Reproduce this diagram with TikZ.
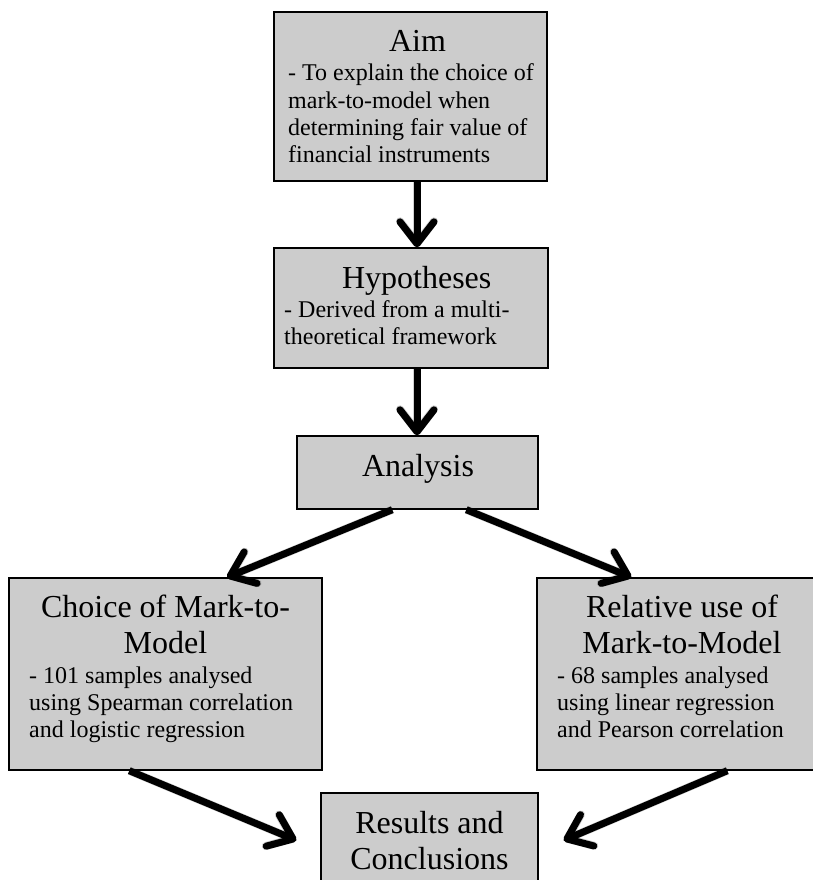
\documentclass[tikz,border=0pt]{standalone}
\usepackage{fontspec}
\setmainfont{Liberation Serif}
\usetikzlibrary{arrows.meta}
\definecolor{boxgray}{RGB}{204,204,204}
\newcommand{\ttlfont}{\fontsize{32}{36}\selectfont}
\newcommand{\bdyfont}{\fontsize{24}{27.3}\selectfont}
\tikzset{
  box/.style={draw=black, fill=boxgray, line width=1.4pt, rectangle, inner sep=0pt},
  ttl/.style={inner sep=0pt, anchor=base, font=\ttlfont},
  bdy/.style={inner sep=0pt, anchor=base west},
  flow/.style={line width=7pt, -{Straight Barb[length=22pt,width=34pt,round]}},
  flowshadow/.style={line width=8pt, draw=black, opacity=0.18, -{Straight Barb[length=22pt,width=34pt,round]}},
}
\begin{document}
\begin{tikzpicture}[x=1pt,y=-1pt]
\useasboundingbox (0,0) rectangle (813,880);
\clip (0,0) rectangle (813,880);
\fill[white] (0,0) rectangle (813,880);

% boxes
\node[box, minimum width=273pt, minimum height=169pt] (aim) at (410.5,96.5) {};
\node[box, minimum width=274pt, minimum height=120pt] (hyp) at (411,308) {};
\node[box, minimum width=241pt, minimum height=73pt] (ana) at (417.5,472.5) {};
\node[box, minimum width=313pt, minimum height=192pt] (cho) at (165.5,674) {};
\node[box, minimum width=291pt, minimum height=192pt] (rel) at (682.5,674) {};
\node[box, minimum width=217pt, minimum height=107pt] (res) at (429.5,846.5) {};

% texts
\node[ttl] (aimt) at (417.5,52) {Aim};
\node[bdy] (aimb) at (288,81) {\parbox[t]{260pt}{\raggedright\bdyfont - To explain the choice of\\mark-to-model when\\determining fair value of\\financial instruments}};

\node[ttl] (hypt) at (416.7,288) {Hypotheses};
\node[bdy] (hypb) at (284,317) {\parbox[t]{260pt}{\raggedright\bdyfont - Derived from a multi-\\theoretical framework}};

\node[ttl] (anat) at (418,476) {Analysis};

\node[ttl] (chot) at (165.5,617) {\parbox[t]{310pt}{\centering\ttlfont Choice of Mark-to-\\Model}};
\node[bdy] (chob) at (29,683) {\parbox[t]{290pt}{\raggedright\bdyfont - 101 samples analysed\\using Spearman correlation\\and logistic regression}};

\node[ttl] (relt) at (682,617) {\parbox[t]{290pt}{\centering\ttlfont Relative use of\\Mark-to-Model}};
\node[bdy] (relb) at (557,683) {\parbox[t]{250pt}{\raggedright\bdyfont - 68 samples analysed\\using linear regression\\and Pearson correlation}};

\node[ttl] (rest) at (429.5,833) {\parbox[t]{215pt}{\centering\ttlfont Results and\\Conclusions}};

% connectors (shadows)
\begin{scope}[shift={(1.5,2.5)}]
\draw[flowshadow] ([xshift=6.5pt]aim.south) -- ([xshift=6pt]hyp.north);
\draw[flowshadow] ([xshift=6pt]hyp.south) -- ([xshift=-0.5pt]ana.north);
\draw[flowshadow] ([xshift=96pt]ana.south west) -- ([xshift=61.5pt]cho.north);
\draw[flowshadow] ([xshift=170pt]ana.south west) -- ([xshift=95pt]rel.north west);
\draw[flowshadow] ([xshift=121pt]cho.south west) -- ([xshift=-24pt,yshift=-48pt]res.north west);
\draw[flowshadow] ([xshift=191pt]rel.south west) -- ([xshift=25pt,yshift=-48pt]res.north east);
\end{scope}
% connectors
\draw[flow] ([xshift=6.5pt]aim.south) -- ([xshift=6pt]hyp.north);
\draw[flow] ([xshift=6pt]hyp.south) -- ([xshift=-0.5pt]ana.north);
\draw[flow] ([xshift=96pt]ana.south west) -- ([xshift=61.5pt]cho.north);
\draw[flow] ([xshift=170pt]ana.south west) -- ([xshift=95pt]rel.north west);
\draw[flow] ([xshift=121pt]cho.south west) -- ([xshift=-24pt,yshift=-48pt]res.north west);
\draw[flow] ([xshift=191pt]rel.south west) -- ([xshift=25pt,yshift=-48pt]res.north east);
\end{tikzpicture}
\end{document}
